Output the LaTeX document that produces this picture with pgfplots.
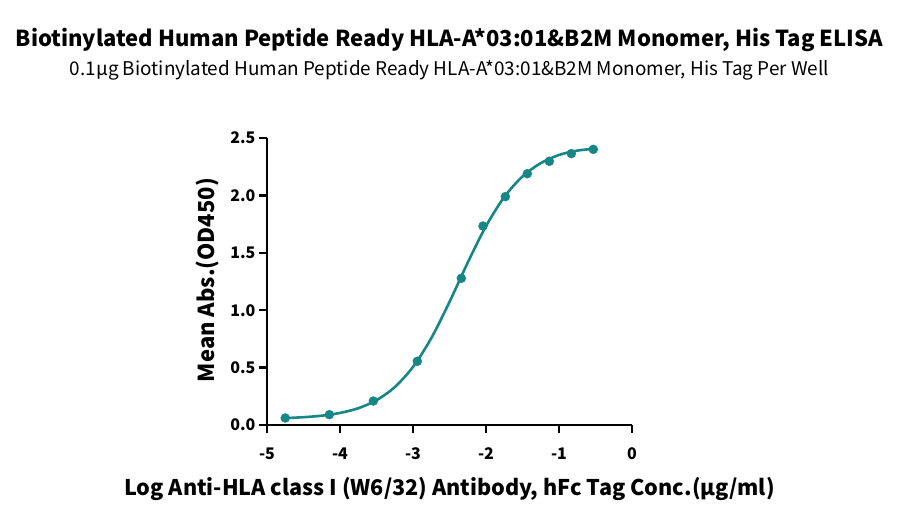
\documentclass[border=0pt]{standalone}
\usepackage{fontspec}
\setmainfont{Noto Sans CJK SC}
\usepackage{pgfplots}
\pgfplotsset{compat=1.18}
\definecolor{tealc}{RGB}{22,134,134}
\pgfplotstableread{
x y
-4.75 0.061
-4.146 0.090
-3.543 0.209
-2.941 0.555
-2.338 1.278
-2.041 1.733
-1.735 1.989
-1.434 2.189
-1.132 2.297
-0.831 2.364
-0.530 2.401
}\pts
\pgfplotstableread{
x y
-4.75 0.060
-4.50 0.068
-4.25 0.081
-4.00 0.105
-3.75 0.146
-3.50 0.216
-3.25 0.330
-3.00 0.506
-2.75 0.756
-2.50 1.072
-2.25 1.415
-2.00 1.732
-1.75 1.986
-1.50 2.165
-1.25 2.281
-1.00 2.352
-0.75 2.390
-0.53 2.405
}\fit
\begin{document}
\begin{tikzpicture}[x=1bp,y=1bp]
\path[use as bounding box] (0,0) rectangle (900,520);
\begin{axis}[
  at={(267bp,95bp)}, anchor=south west,
  scale only axis, width=365bp, height=287bp,
  xmin=-5, xmax=0, ymin=0, ymax=2.5,
  axis lines=left,
  axis line style={line width=2.6bp, -, black},
  xtick={-5,-4,-3,-2,-1,0},
  ytick={0,0.5,1,1.5,2,2.5},
  tick align=outside,
  major tick length=8bp,
  tick style={line width=2.4bp, black},
  /pgf/number format/assume math mode=true,
  yticklabel style={font=\bfseries\fontsize{16bp}{18bp}\selectfont, /pgf/number format/.cd, fixed, fixed zerofill, precision=1},
  xticklabel style={font=\bfseries\fontsize{16bp}{18bp}\selectfont, yshift=-11bp},
  clip=false,
  title={\bfseries Biotinylated Human Peptide Ready HLA-A*03:01\&B2M Monomer, His Tag ELISA},
  title style={font=\fontsize{22bp}{26bp}\selectfont, at={(axis description cs:0.5,1.322)}, anchor=center},
  xlabel={\bfseries Log Anti-HLA class I (W6/32) Antibody, hFc Tag Conc.(µg/ml)},
  xlabel style={font=\fontsize{21.6bp}{26bp}\selectfont, at={(axis description cs:0.5,-0.222)}, anchor=center},
  ylabel={\bfseries Mean Abs.(OD450)},
  ylabel style={font=\fontsize{22bp}{26bp}\selectfont, at={(axis description cs:-0.163,0.505)}, anchor=center, rotate=0},
]
\node[font=\fontsize{18.9bp}{22bp}\selectfont, anchor=center] at (axis description cs:0.5,1.235) {0.1µg Biotinylated Human Peptide Ready HLA-A*03:01\&B2M Monomer, His Tag Per Well};
\addplot[tealc, line width=2.6bp, smooth, no markers] table[x=x,y=y] {\fit};
\addplot[only marks, mark=*, mark size=4.5bp, mark options={fill=tealc, draw=tealc}] table[x=x,y=y] {\pts};
\end{axis}
\end{tikzpicture}
\end{document}
